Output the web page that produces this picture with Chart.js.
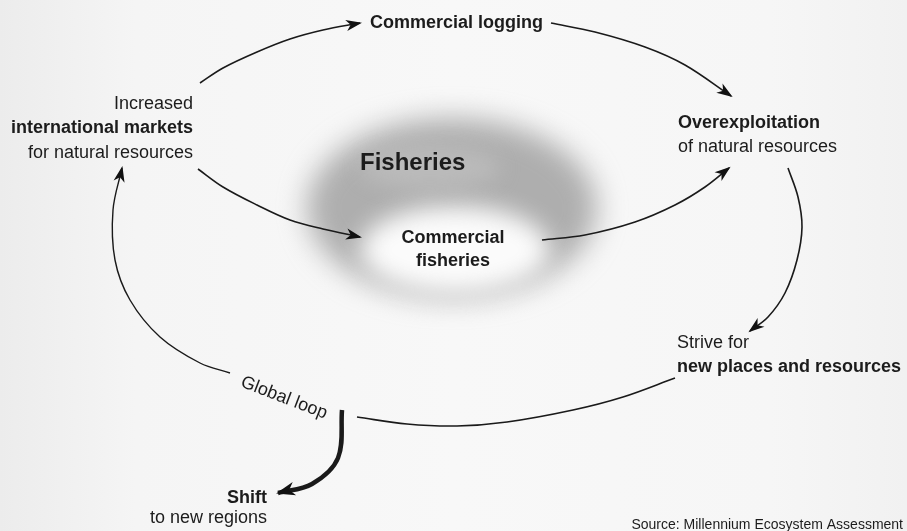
<!DOCTYPE html>
<html>
<head>
<meta charset="utf-8">
<script src="https://cdn.jsdelivr.net/npm/chart.js@4"></script>
<style>
  html, body { margin: 0; padding: 0; background: #f6f6f6; }
  #chart-container { width: 907px; height: 531px; }
</style>
</head>
<body>
<div id="chart-container"><canvas id="c" width="907" height="531"></canvas></div>
<script>
// flow links of the diagram (x right, y down)
const loggingIn = [[200, 83], [223, 68], [257, 52], [290, 39], [323, 30], [360, 23]];
const loggingOut = [[551, 23], [595, 32], [645, 47], [685, 65], [731, 96]];
const fisheriesIn = [[198, 169], [223, 187], [257, 205], [290, 220], [323, 229], [360, 237]];
const fisheriesOut = [[542, 240], [585, 235], [635, 222], [675, 205], [705, 187], [729, 168]];
const overToStrive = [[788, 168], [798, 197], [802, 227], [797, 260], [785, 293], [768, 317], [750, 331]];
const striveToLoop = [[675, 378], [623, 397], [573, 410], [507, 422], [457, 426], [407, 424], [357, 417]];
const loopToMarkets = [[230, 373], [200, 363], [160, 337], [130, 300], [115, 260], [113, 210], [122, 168]];
const shiftArrow = [[342, 410], [338, 458], [312, 484], [278, 493]];

// node labels
const nodeLines = [
  ["Commercial logging"],
  ["Increased", "international markets", "for natural resources"],
  ["Fisheries"],
  ["Commercial", "fisheries"],
  ["Overexploitation", "of natural resources"],
  ["Strive for", "new places and resources"],
  ["Global loop"],
  ["Shift", "to new regions"],
  ["Source: Millennium Ecosystem Assessment"]
];
const nodeAnchors = [[370, 23], [193, 104], [360, 163], [453, 238], [678, 123], [677, 343], [284, 398], [267, 498], [903, 525]];
const boldLines = [[0], [1], [0], [0, 1], [0], [1], [], [0], []];

const FONT = "'Liberation Sans', Arial, sans-serif";
const nodeStyle = [
  { align: 'left', size: 18 },
  { align: 'right', size: 18, gap: 24.5 },
  { align: 'left', size: 24 },
  { align: 'center', size: 18, gap: 23 },
  { align: 'left', size: 18, gap: 24 },
  { align: 'left', size: 18, gap: 24 },
  { align: 'center', size: 18, rot: 21 },
  { align: 'right', size: 18, gap: 20 },
  { align: 'right', size: 14 }
];

const links = [
  { pts: loggingIn, arrow: true },
  { pts: loggingOut, arrow: true },
  { pts: fisheriesIn, arrow: true },
  { pts: fisheriesOut, arrow: true },
  { pts: overToStrive, arrow: true },
  { pts: striveToLoop, arrow: false },
  { pts: loopToMarkets, arrow: true, width: 1.4 },
  { pts: shiftArrow, arrow: true, width: 4.5, head: 17 }
];

const backdrop = {
  id: 'backdrop',
  beforeDraw(chart) {
    const { ctx, scales: { x, y } } = chart;
    ctx.save();
    const g = ctx.createLinearGradient(0, 0, chart.width, 0);
    g.addColorStop(0, '#ececec');
    g.addColorStop(0.15, '#f5f5f5');
    g.addColorStop(0.5, '#f8f8f8');
    g.addColorStop(0.85, '#f6f6f6');
    g.addColorStop(1, '#f1f1f1');
    ctx.fillStyle = g;
    ctx.fillRect(0, 0, chart.width, chart.height);
    // blurred grey ring behind "Fisheries"
    ctx.filter = 'blur(14px)';
    ctx.fillStyle = 'rgba(150,150,150,0.75)';
    ctx.beginPath();
    ctx.ellipse(x.getPixelForValue(452), y.getPixelForValue(208), 145, 90, 0, 0, Math.PI * 2);
    ctx.fill();
    ctx.filter = 'blur(12px)';
    ctx.fillStyle = '#fbfbfb';
    ctx.beginPath();
    ctx.ellipse(x.getPixelForValue(455), y.getPixelForValue(250), 95, 44, 0, 0, Math.PI * 2);
    ctx.fill();
    ctx.filter = 'blur(10px)';
    ctx.fillStyle = 'rgba(200,200,200,0.5)';
    ctx.beginPath();
    ctx.ellipse(x.getPixelForValue(430), y.getPixelForValue(168), 70, 22, 0, 0, Math.PI * 2);
    ctx.fill();
    ctx.restore();
  }
};

const decorations = {
  id: 'decorations',
  afterDatasetsDraw(chart) {
    const { ctx, scales: { x, y } } = chart;
    ctx.save();
    // arrow heads
    links.forEach((l, i) => {
      if (!l.arrow) return;
      const pts = chart.getDatasetMeta(i).data;
      const end = pts[pts.length - 1];
      let fx = end.cp1x, fy = end.cp1y;
      if (fx === undefined || (Math.abs(fx - end.x) < 0.5 && Math.abs(fy - end.y) < 0.5)) {
        fx = pts[pts.length - 2].x; fy = pts[pts.length - 2].y;
      }
      const a = Math.atan2(end.y - fy, end.x - fx);
      const L = l.head || 14;
      ctx.save();
      ctx.translate(end.x, end.y);
      ctx.rotate(a);
      ctx.fillStyle = '#111';
      ctx.beginPath();
      ctx.moveTo(2, 0);
      ctx.lineTo(-L, -L * 0.4);
      ctx.lineTo(-L * 0.68, 0);
      ctx.lineTo(-L, L * 0.4);
      ctx.closePath();
      ctx.fill();
      ctx.restore();
    });
    // labels
    ctx.fillStyle = '#1c1c1c';
    ctx.textBaseline = 'middle';
    nodeLines.forEach((lines, i) => {
      const st = nodeStyle[i];
      const px = x.getPixelForValue(nodeAnchors[i][0]);
      const py = y.getPixelForValue(nodeAnchors[i][1]);
      ctx.save();
      ctx.translate(px, py);
      if (st.rot) ctx.rotate(st.rot * Math.PI / 180);
      ctx.textAlign = st.align;
      lines.forEach((t, j) => {
        const bold = boldLines[i].includes(j);
        ctx.font = (bold ? 'bold ' : '') + st.size + 'px ' + FONT;
        ctx.fillText(t, 0, j * (st.gap || 0));
      });
      ctx.restore();
    });
    ctx.restore();
  }
};

const canvas = document.getElementById('c');
const chart = new Chart(canvas, {
  type: 'scatter',
  data: {
    datasets: links.map(l => ({
      data: l.pts.map(p => ({ x: p[0], y: p[1] })),
      showLine: true,
      borderColor: '#1a1a1a',
      borderWidth: l.width || 1.6,
      pointRadius: 0,
      tension: 0.35,
      fill: false
    }))
  },
  options: {
    responsive: false,
    animation: false,
    events: [],
    layout: { padding: 0 },
    plugins: { legend: { display: false }, tooltip: { enabled: false } },
    scales: {
      x: { type: 'linear', min: 0, max: 907, display: false },
      y: { type: 'linear', min: 0, max: 531, reverse: true, display: false }
    }
  },
  plugins: [backdrop, decorations]
});
</script>
</body>
</html>
